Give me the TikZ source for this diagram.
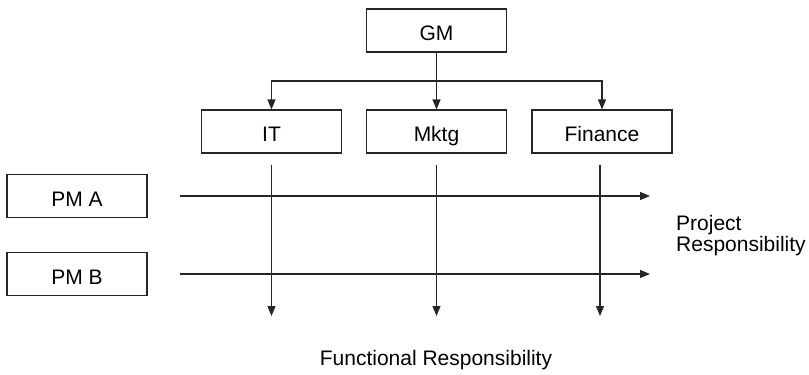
\documentclass[tikz,border=0pt]{standalone}
\usepackage{fontspec}
\setmainfont{Liberation Sans}
\usetikzlibrary{arrows.meta}
\begin{document}
\begin{tikzpicture}[x=1pt,y=-1pt,
  unitbox/.style={draw=black!85, line width=1.1pt, fill=white,
    minimum width=140pt, minimum height=43pt, inner sep=0pt,
    text height=20pt, text depth=0pt,
    font=\fontsize{21}{24}\selectfont},
  link/.style={draw=black!85, line width=1.1pt},
  arr/.style={link, -{Triangle[length=10pt,width=8pt]}},
  lbl/.style={font=\fontsize{21}{21.5}\selectfont, inner sep=0pt}]
\useasboundingbox (0,0) rectangle (809,375);

% organisation boxes
\node[unitbox] (gm)  at (436.5,30.5) {GM};
\node[unitbox] (it)  at (271.5,131.5) {IT};
\node[unitbox] (mk)  at (436.5,131.5) {Mktg};
\node[unitbox] (fin) at (602,131.5) {Finance};
\node[unitbox] (pma) at (77,196) {PM A};
\node[unitbox] (pmb) at (77,274) {PM B};

% reporting lines from the GM
\coordinate (br) at (436.5,81);
\draw[arr] (gm.south) -- (mk.north);
\draw[arr] (br) -| (it.north);
\draw[arr] (br) -| (fin.north);

% functional responsibility (vertical)
\coordinate (itT) at (271.5,165);  \coordinate (itB) at (271.5,316);
\coordinate (mkT) at (436.5,165);  \coordinate (mkB) at (436.5,316);
\coordinate (fiT) at (600,165);    \coordinate (fiB) at (600,316);
\draw[arr] (itT) -- (itB);
\draw[arr] (mkT) -- (mkB);
\draw[arr] (fiT) -- (fiB);

% project responsibility (horizontal)
\coordinate (paL) at (180,196);  \coordinate (paR) at (650,196);
\coordinate (pbL) at (180,274);  \coordinate (pbR) at (650,274);
\draw[arr] (paL) -- (paR);
\draw[arr] (pbL) -- (pbR);

% labels
\node[lbl, anchor=north west, align=left] (proj) at (676,215)
  {Project\\Responsibility};
\node[lbl, anchor=base] (func) at (436,365) {Functional Responsibility};
\end{tikzpicture}
\end{document}
